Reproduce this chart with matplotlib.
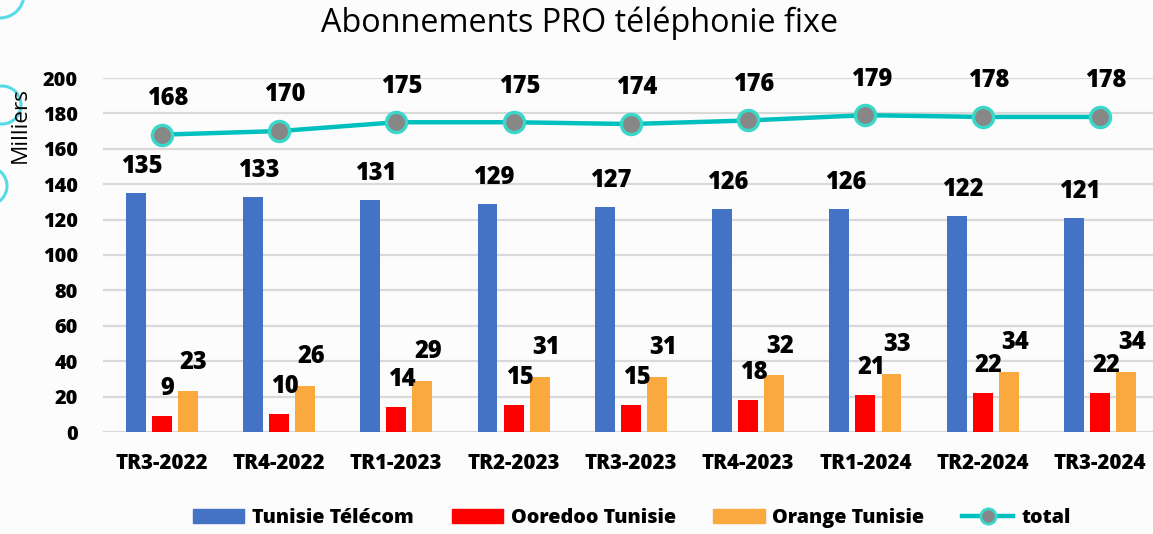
import matplotlib
matplotlib.use("Agg")
import matplotlib.pyplot as plt
from matplotlib.patches import Circle
from matplotlib.lines import Line2D
from matplotlib.patches import Patch
import numpy as np

categories = ["TR3-2022", "TR4-2022", "TR1-2023", "TR2-2023", "TR3-2023",
              "TR4-2023", "TR1-2024", "TR2-2024", "TR3-2024"]
tunisie_telecom = [135, 133, 131, 129, 127, 126, 126, 122, 121]
ooredoo = [9, 10, 14, 15, 15, 18, 21, 22, 22]
orange = [23, 26, 29, 31, 31, 32, 33, 34, 34]
total = [168, 170, 175, 175, 174, 176, 179, 178, 178]
yticks = [0, 20, 40, 60, 80, 100, 120, 140, 160, 180, 200]

FONT = ["Open Sans", "DejaVu Sans"]
plt.rcParams["font.family"] = FONT
BOLD = 800

W, H = 1153, 534
fig = plt.figure(figsize=(W / 100, H / 100), dpi=100)
fig.patch.set_facecolor("#fcfcfc")

# background decorations
bg = fig.add_axes([0, 0, 1, 1], zorder=-5)
bg.set_xlim(0, W)
bg.set_ylim(H, 0)
bg.axis("off")
for (cx, cy, r) in [(0, -6, 24), (2, 105, 19), (-12, 186, 19)]:
    bg.add_patch(Circle((cx, cy), r, fill=False, ec="#55dbe8", lw=2.2))

ax = fig.add_axes([103 / W, (H - 432) / H, (W - 103) / W, 354 / H])
ax.set_facecolor("none")
x = np.arange(len(categories))
bw = 0.17
off = 0.222
c_blue, c_red, c_orange = "#4472C4", "#FF0000", "#F9A93E"
ax.bar(x - off, tunisie_telecom, bw, color=c_blue, zorder=3)
ax.bar(x, ooredoo, bw, color=c_red, zorder=3)
ax.bar(x + off, orange, bw, color=c_orange, zorder=3)
ax.plot(x, total, color="#00BFBF", lw=3.2, marker="o", ms=14.5,
        mfc="#878787", mec="#3ad8c9", mew=2.4, zorder=4)

lab_kw = dict(textcoords="offset points", ha="center", va="center",
              fontsize=17, fontweight=BOLD, color="black", zorder=6,
              annotation_clip=False)
for xi, v in zip(x - off, tunisie_telecom):
    ax.annotate(str(v), (xi, v), xytext=(4.3, 19), **lab_kw)
for xi, v in zip(x, ooredoo):
    ax.annotate(str(v), (xi, v), xytext=(4.3, 20), **lab_kw)
for xi, v in zip(x + off, orange):
    ax.annotate(str(v), (xi, v), xytext=(4.3, 21), **lab_kw)
for xi, v in zip(x, total):
    ax.annotate(str(v), (xi, v), xytext=(4.3, 26), **lab_kw)

ax.set_xlim(-0.5, -0.5 + (W - 103) / 117.3)
ax.set_ylim(0, 200)
ax.set_yticks(yticks)
ax.set_yticklabels([str(t) for t in yticks], fontsize=14.3, fontweight=BOLD)
ax.set_xticks(x)
ax.set_xticklabels(categories, fontsize=14.8, fontweight=BOLD)
ax.tick_params(axis="both", length=0)
ax.tick_params(axis="y", pad=18)
ax.tick_params(axis="x", pad=15)
ax.grid(axis="y", color="#d9d9d9", lw=1.6, zorder=0)
for s in ax.spines.values():
    s.set_visible(False)

fig.text(20 / W, 1 - 125 / H, "Milliers", rotation=90, ha="center", va="center",
         fontsize=16.2, fontweight=500)
fig.text(580 / W, 1 - 23 / H, "Abonnements PRO téléphonie fixe", ha="center",
         va="center", fontsize=23.3, fontweight=500)

handles = [Patch(color=c_blue), Patch(color=c_red), Patch(color=c_orange),
           Line2D([0], [0], color="#00BFBF", lw=3.2, marker="o", ms=11,
                  mfc="#878787", mec="#3ad8c9", mew=2.0)]
labels = ["Tunisie Télécom", "Ooredoo Tunisie", "Orange Tunisie", "total"]
fig.legend(handles, labels, loc="center", bbox_to_anchor=(0.548, 1 - 518 / H),
           ncol=4, frameon=False, prop={"weight": BOLD, "size": 14.2},
           handlelength=2.6, handletextpad=0.4, columnspacing=1.9)

fig.savefig("out.png", dpi=100, facecolor=fig.get_facecolor())
